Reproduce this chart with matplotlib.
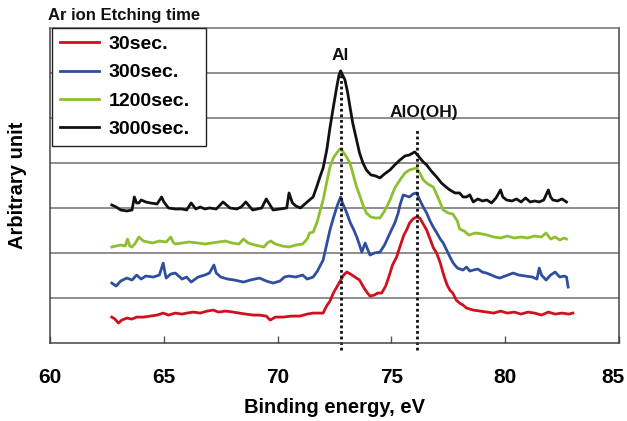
import matplotlib
matplotlib.use("Agg")
import matplotlib.pyplot as plt
from matplotlib.transforms import ScaledTranslation

plt.rcParams["font.family"] = ["Liberation Sans", "DejaVu Sans"]
plt.rcParams["font.weight"] = "bold"
plt.rcParams["axes.labelweight"] = "bold"

# binding energy (eV) and intensity (arbitrary unit, offset stacked)
x_30 = [62.71, 62.85, 63.0, 63.15, 63.37, 63.6, 63.8, 64.1, 64.4, 64.7, 64.97, 65.2, 65.5, 65.8, 66.0,
        66.3, 66.6, 66.9, 67.17, 67.4, 67.7, 68.05, 68.3, 68.6, 68.93, 69.2, 69.5, 69.67, 69.9, 70.25,
        70.6, 70.98, 71.3, 71.56, 71.8, 72.0, 72.15, 72.3, 72.45, 72.6, 72.75, 72.9, 73.04, 73.2, 73.4,
        73.6, 73.8, 73.95, 74.06, 74.25, 74.4, 74.57, 74.75, 74.9, 75.05, 75.23, 75.4, 75.55, 75.67, 75.8,
        75.95, 76.11, 76.25, 76.4, 76.55, 76.7, 76.85, 76.99, 77.15, 77.3, 77.45, 77.57, 77.7, 77.85, 78.0,
        78.15, 78.3, 78.6, 78.9, 79.2, 79.5, 79.8, 80.1, 80.4, 80.7, 81.0, 81.3, 81.6, 81.9, 82.2,
        82.5, 82.8, 82.98]
y_30 = [26, 24, 20, 23, 25, 24, 26, 26, 27, 28, 30, 28, 30, 29, 30,
        31, 30, 32, 33, 31, 32, 31, 30, 29, 28, 28, 27, 23, 26, 26,
        27, 27, 29, 30, 30, 30, 37, 42, 50, 56, 62, 68, 71, 69, 66,
        63, 55, 50, 47, 48, 50, 50, 57, 67, 78, 86, 98, 108, 113, 120,
        124, 126, 125, 119, 113, 104, 95, 90, 80, 68, 58, 53, 50, 43, 40,
        38, 35, 33, 32, 31, 30, 32, 30, 31, 29, 31, 30, 28, 31, 29,
        30, 29, 30]

x_300 = [62.71, 62.9, 63.1, 63.37, 63.6, 63.8, 64.0, 64.2, 64.54, 64.8, 64.97, 65.05, 65.1, 65.3, 65.5,
         65.8, 66.0, 66.2, 66.5, 66.8, 67.0, 67.2, 67.3, 67.5, 67.8, 68.1, 68.5, 68.8, 69.2, 69.5,
         69.8, 70.1, 70.3, 70.5, 70.8, 71.1, 71.3, 71.56, 71.75, 72.0, 72.15, 72.3, 72.45, 72.6, 72.7,
         72.77, 72.85, 73.04, 73.2, 73.35, 73.48, 73.6, 73.7, 73.85, 73.95, 74.06, 74.25, 74.5, 74.7, 74.94,
         75.15, 75.3, 75.38, 75.52, 75.65, 75.8, 75.95, 76.11, 76.25, 76.4, 76.55, 76.7, 76.84, 77.0, 77.15,
         77.28, 77.45, 77.6, 77.72, 77.9, 78.15, 78.3, 78.45, 78.6, 78.8, 79.0, 79.18, 79.4, 79.6, 79.76,
         80.0, 80.35, 80.6, 80.9, 81.2, 81.4, 81.5, 81.6, 81.8, 82.0, 82.2, 82.4, 82.6, 82.7, 82.77]
y_300 = [60, 57, 62, 65, 63, 68, 64, 67, 66, 68, 80, 70, 65, 69, 70,
         64, 66, 61, 66, 68, 70, 78, 70, 66, 64, 63, 61, 63, 65, 62,
         60, 62, 66, 67, 66, 68, 64, 66, 72, 83, 98, 113, 125, 136, 142,
         146, 140, 130, 120, 113, 106, 98, 91, 100, 94, 88, 90, 91, 98, 110,
         120, 130, 138, 148, 147, 146, 149, 150, 143, 136, 130, 122, 116, 110, 104,
         100, 92, 85, 80, 75, 73, 76, 72, 73, 74, 71, 70, 68, 66, 65,
         67, 70, 68, 67, 66, 64, 75, 68, 63, 68, 71, 66, 67, 66, 56]

x_1200 = [62.71, 62.9, 63.1, 63.3, 63.4, 63.5, 63.6, 63.75, 63.9, 64.1, 64.3, 64.5, 64.8, 65.1, 65.3,
          65.4, 65.5, 65.8, 66.1, 66.5, 66.8, 67.1, 67.4, 67.7, 68.0, 68.3, 68.5, 68.7, 69.0, 69.4,
          69.55, 69.7, 69.9, 70.2, 70.5, 70.8, 71.1, 71.3, 71.4, 71.57, 71.75, 71.9, 72.0, 72.15, 72.3,
          72.45, 72.6, 72.74, 72.85, 73.0, 73.18, 73.3, 73.47, 73.6, 73.75, 73.9, 74.1, 74.3, 74.5, 74.7,
          74.94, 75.15, 75.38, 75.6, 75.8, 75.95, 76.1, 76.25, 76.4, 76.6, 76.84, 77.0, 77.15, 77.28, 77.5,
          77.7, 77.9, 78.0, 78.2, 78.4, 78.7, 79.0, 79.2, 79.5, 79.8, 80.1, 80.4, 80.7, 81.0, 81.3,
          81.6, 81.8, 82.0, 82.2, 82.4, 82.6, 82.7]
y_1200 = [96, 97, 98, 97, 104, 97, 96, 100, 106, 102, 101, 100, 102, 101, 106,
          101, 99, 100, 101, 100, 99, 100, 101, 102, 100, 99, 104, 100, 98, 96,
          100, 102, 99, 97, 96, 98, 99, 104, 110, 111, 122, 135, 143, 160, 176,
          185, 190, 194, 192, 187, 180, 170, 156, 148, 138, 130, 126, 125, 125, 132,
          143, 155, 163, 170, 173, 174, 175, 170, 163, 159, 156, 148, 140, 133, 130,
          129, 122, 114, 112, 108, 110, 109, 108, 106, 105, 107, 105, 106, 105, 107,
          106, 110, 104, 106, 103, 105, 104]

x_3000 = [62.71, 62.9, 63.1, 63.37, 63.6, 63.7, 63.8, 63.9, 64.0, 64.2, 64.4, 64.7, 64.9, 65.0, 65.2,
          65.5, 65.8, 66.0, 66.2, 66.4, 66.6, 66.8, 67.0, 67.3, 67.6, 67.9, 68.2, 68.4, 68.6, 68.9,
          69.1, 69.3, 69.5, 69.8, 70.1, 70.4, 70.5, 70.65, 70.8, 71.0, 71.2, 71.4, 71.56, 71.7, 71.86,
          72.0, 72.16, 72.3, 72.45, 72.6, 72.7, 72.77, 72.85, 72.96, 73.08, 73.18, 73.3, 73.47, 73.6, 73.75,
          73.9, 74.1, 74.3, 74.5, 74.7, 74.94, 75.15, 75.38, 75.6, 75.8, 75.95, 76.03, 76.15, 76.25, 76.4,
          76.55, 76.75, 76.99, 77.2, 77.4, 77.57, 77.8, 78.0, 78.15, 78.3, 78.45, 78.6, 78.8, 79.0, 79.2,
          79.4, 79.6, 79.8, 79.9, 80.06, 80.3, 80.5, 80.7, 80.9, 81.1, 81.3, 81.5, 81.7, 81.9, 82.0,
          82.1, 82.3, 82.5, 82.7]
y_3000 = [138, 136, 133, 132, 133, 146, 140, 140, 143, 141, 140, 139, 146, 141, 135,
          134, 134, 133, 140, 134, 136, 134, 135, 134, 141, 135, 134, 136, 141, 133,
          134, 135, 144, 133, 134, 135, 150, 140, 137, 135, 139, 143, 146, 155, 166,
          175, 193, 215, 236, 256, 268, 272, 268, 263, 250, 236, 220, 203, 190, 180,
          173, 168, 167, 165, 169, 173, 178, 183, 187, 188, 190, 191, 188, 185, 181,
          178, 172, 166, 160, 156, 153, 150, 150, 146, 146, 148, 141, 144, 142, 143,
          140, 145, 153, 146, 143, 142, 144, 141, 145, 141, 142, 141, 143, 153, 146,
          143, 142, 144, 141]

series = [("30sec.", x_30, y_30, "#d0101e"),
          ("300sec.", x_300, y_300, "#2f4f9e"),
          ("1200sec.", x_1200, y_1200, "#8dbf2e"),
          ("3000sec.", x_3000, y_3000, "#111111")]

peak_x = [72.77, 76.13]
peak_top = [271, 213]
peak_names = ["Al", "AlO(OH)"]
peak_label_pos = [(72.75, 287), (76.43, 230)]

fig = plt.figure(figsize=(6.27, 4.21), dpi=100)
ax = fig.add_axes([0.08, 0.185, 0.907, 0.749])

for name, xs, ys, c in series:
    ax.plot(xs, ys, color=c, lw=2.0, label=name)

for px, top in zip(peak_x, peak_top):
    ax.plot([px, px], [-7, top], color="#111111", lw=2, ls=(0, (1, 1)), clip_on=False)

for name, (lx, ly) in zip(peak_names, peak_label_pos):
    ax.text(lx, ly, name, ha="center", va="center", fontsize=12.5, color="#111111")

ax.set_xlim(60, 85)
ax.set_ylim(0, 315)
ax.set_xticks([60, 65, 70, 75, 80, 85])
ax.set_yticks([45, 90, 135, 180, 225, 270])
ax.yaxis.grid(True, color="#707070", lw=1.1)
ax.set_axisbelow(True)
ax.tick_params(axis="y", length=0, labelleft=False)
ax.tick_params(axis="x", direction="in", length=5, width=1, color="#555555",
               pad=18, labelsize=15)
# last label sits a little left so it stays inside the picture
last = ax.xaxis.get_major_ticks()[-1].label1
last.set_transform(last.get_transform() + ScaledTranslation(-4 / 72, 0, fig.dpi_scale_trans))

for s in ["left", "right", "bottom"]:
    ax.spines[s].set_color("#444444")
    ax.spines[s].set_linewidth(1.1)
ax.spines["top"].set_color("#707070")
ax.spines["top"].set_linewidth(1.1)

ax.set_xlabel("Binding energy, eV", fontsize=14.5, labelpad=8)
ax.set_ylabel("Arbitrary unit", fontsize=14.5, labelpad=17)

leg = ax.legend(loc="upper left", bbox_to_anchor=(0.0035, 0.0, 0.271, 1.0), mode="expand",
                borderaxespad=0, frameon=True, fancybox=False, handlelength=2.0,
                handletextpad=0.5, labelspacing=0.55, borderpad=0.4, prop={"size": 14})
leg.get_frame().set_edgecolor("#222222")
leg.get_frame().set_linewidth(1.0)
leg.get_frame().set_alpha(1)

fig.text(0.077, 0.963, "Ar ion Etching time", fontsize=12, va="center", ha="left",
         color="#111111")

fig.savefig("out.png", dpi=100)
